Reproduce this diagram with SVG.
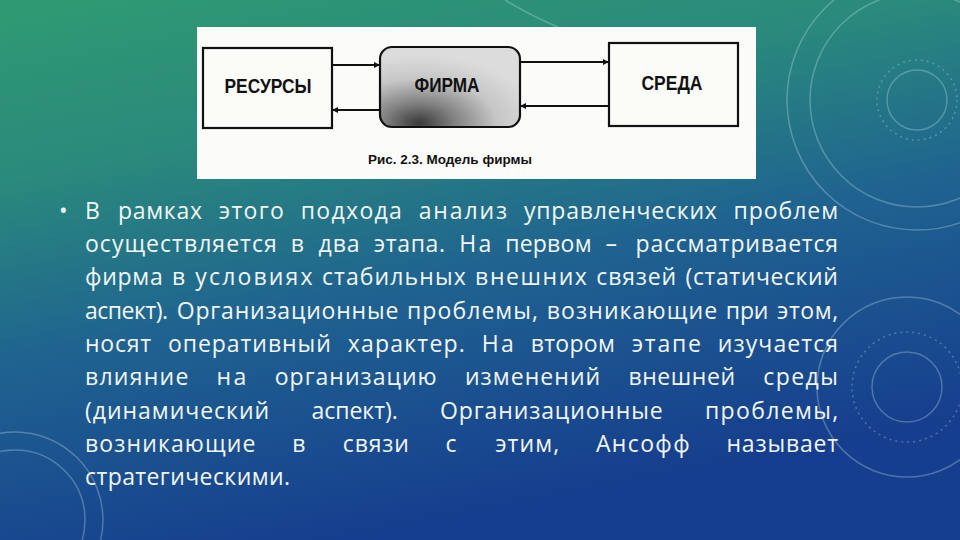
<svg xmlns="http://www.w3.org/2000/svg" width="960" height="540" viewBox="0 0 960 540">
<defs>
<linearGradient id="bg" x1="0" y1="0" x2="0.35" y2="1">
<stop offset="0" stop-color="#2f9a72"/>
<stop offset="0.3" stop-color="#2a8a7c"/>
<stop offset="0.6" stop-color="#1f6390"/>
<stop offset="1" stop-color="#163e8e"/>
</linearGradient>
<radialGradient id="firmfill" cx="0.28" cy="0.95" r="0.85">
<stop offset="0" stop-color="#3a3a3a"/>
<stop offset="0.3" stop-color="#828282"/>
<stop offset="0.65" stop-color="#c6c6c6"/>
<stop offset="1" stop-color="#dcdcdc"/>
</radialGradient>
<marker id="ah" viewBox="0 0 10 10" refX="10" refY="5" markerWidth="6" markerHeight="6" orient="auto" markerUnits="userSpaceOnUse">
<path d="M0,0 L10,5 L0,10 z" fill="#111"/>
</marker>
<style>
.deco{fill:none;stroke:#cfe8ee;stroke-opacity:0.3;stroke-width:1.5}
.box{fill:#fbfbf8;stroke:#111;stroke-width:2.2}
.lbl{font-family:"Liberation Sans",Arial,sans-serif;font-weight:bold;font-size:20px;fill:#111;text-anchor:middle}
.cap{font-family:"Liberation Sans",Arial,sans-serif;font-weight:bold;font-size:13px;fill:#111}
.con{stroke:#111;stroke-width:2;fill:none;marker-end:url(#ah)}
.p text{font-family:"Open Sans","Noto Sans",sans-serif;font-size:23px;fill:#f2f6f6}
</style>
</defs>
<rect width="960" height="540" fill="url(#bg)"/>
<g id="decor">
<circle class="deco" cx="917" cy="100" r="30"/>
<circle class="deco" cx="917" cy="100" r="40" stroke-dasharray="2 4"/>
<circle class="deco" cx="917" cy="100" r="107"/>
<circle class="deco" cx="917" cy="100" r="130" stroke-opacity="0.2"/>
<circle class="deco" cx="907" cy="387" r="35"/>
<circle class="deco" cx="907" cy="387" r="55" stroke-dasharray="2 4"/>
<circle class="deco" cx="907" cy="387" r="90" stroke-opacity="0.12"/>
<circle class="deco" cx="15" cy="520" r="70"/>
<circle class="deco" cx="15" cy="520" r="88" stroke-opacity="0.18"/>
<path class="deco" d="M505,0 Q530,15 560,28" stroke-opacity="0.2"/>
</g>
<rect id="panel" x="197" y="27" width="559" height="152" fill="#fbfbf9"/>
<g id="resources">
<rect class="box" x="203" y="48" width="129" height="80"/>
<text class="lbl" x="268" y="93" textLength="87" lengthAdjust="spacingAndGlyphs">РЕСУРСЫ</text>
</g>
<g id="firm">
<rect x="380" y="47" width="140" height="80" rx="12" fill="url(#firmfill)" stroke="#111" stroke-width="2.2"/>
<text class="lbl" x="447" y="92" textLength="65" lengthAdjust="spacingAndGlyphs">ФИРМА</text>
</g>
<g id="environment">
<rect class="box" x="609" y="43" width="129" height="83"/>
<text class="lbl" x="672" y="90" textLength="61" lengthAdjust="spacingAndGlyphs">СРЕДА</text>
</g>
<g id="connectors">
<line class="con" x1="332" y1="65" x2="380" y2="65"/>
<line class="con" x1="380" y1="110" x2="332" y2="110"/>
<line class="con" x1="520" y1="62" x2="609" y2="62"/>
<line class="con" x1="609" y1="106" x2="520" y2="106"/>
</g>
<g id="caption">
<text class="cap" x="368" y="164" textLength="164" lengthAdjust="spacingAndGlyphs">Рис. 2.3. Модель фирмы</text>
</g>
<g id="paragraph" class="p">
<text x="59" y="219">•</text>
<text x="85" y="219" textLength="16" lengthAdjust="spacing">В</text>
<text x="117.9" y="219" textLength="84.1" lengthAdjust="spacing">рамках</text>
<text x="218.8" y="219" textLength="65" lengthAdjust="spacing">этого</text>
<text x="300.7" y="219" textLength="101.2" lengthAdjust="spacing">подхода</text>
<text x="418.7" y="219" textLength="88.4" lengthAdjust="spacing">анализ</text>
<text x="524" y="219" textLength="192.8" lengthAdjust="spacing">управленческих</text>
<text x="733.6" y="219" textLength="104.4" lengthAdjust="spacing">проблем</text>

<text x="85" y="252" textLength="191.7" lengthAdjust="spacing">осуществляется</text>
<text x="290.8" y="252" textLength="13.8" lengthAdjust="spacing">в</text>
<text x="318.6" y="252" textLength="41" lengthAdjust="spacing">два</text>
<text x="373.7" y="252" textLength="71.4" lengthAdjust="spacing">этапа.</text>
<text x="459.2" y="252" textLength="32" lengthAdjust="spacing">На</text>
<text x="505.2" y="252" textLength="86.3" lengthAdjust="spacing">первом</text>
<text x="605.6" y="252" textLength="16" lengthAdjust="spacing">–</text>
<text x="635.6" y="252" textLength="202.4" lengthAdjust="spacing">рассматривается</text>

<text x="85" y="285" textLength="77.7" lengthAdjust="spacing">фирма</text>
<text x="172.1" y="285" textLength="13.8" lengthAdjust="spacing">в</text>
<text x="195.3" y="285" textLength="117.2" lengthAdjust="spacing">условиях</text>
<text x="321.9" y="285" textLength="143.8" lengthAdjust="spacing">стабильных</text>
<text x="475.1" y="285" textLength="111.8" lengthAdjust="spacing">внешних</text>
<text x="596.3" y="285" textLength="79.9" lengthAdjust="spacing">связей</text>
<text x="685.6" y="285" textLength="152.3" lengthAdjust="spacing">(статический</text>

<text x="85" y="319" textLength="83.1" lengthAdjust="spacing">аспект).</text>
<text x="176.8" y="319" textLength="221.5" lengthAdjust="spacing">Организационные</text>
<text x="407" y="319" textLength="131" lengthAdjust="spacing">проблемы,</text>
<text x="546.7" y="319" textLength="170.4" lengthAdjust="spacing">возникающие</text>
<text x="725.8" y="319" textLength="42.6" lengthAdjust="spacing">при</text>
<text x="777.1" y="319" textLength="61" lengthAdjust="spacing">этом,</text>

<text x="85" y="352" textLength="66" lengthAdjust="spacing">носят</text>
<text x="167.9" y="352" textLength="162.9" lengthAdjust="spacing">оперативный</text>
<text x="347.7" y="352" textLength="117.2" lengthAdjust="spacing">характер.</text>
<text x="481.8" y="352" textLength="32" lengthAdjust="spacing">На</text>
<text x="530.7" y="352" textLength="84.1" lengthAdjust="spacing">втором</text>
<text x="631.7" y="352" textLength="69.2" lengthAdjust="spacing">этапе</text>
<text x="717.8" y="352" textLength="120.3" lengthAdjust="spacing">изучается</text>

<text x="85" y="385" textLength="103.3" lengthAdjust="spacing">влияние</text>
<text x="216.6" y="385" textLength="29.8" lengthAdjust="spacing">на</text>
<text x="274.7" y="385" textLength="161.9" lengthAdjust="spacing">организацию</text>
<text x="464.9" y="385" textLength="135.3" lengthAdjust="spacing">изменений</text>
<text x="628.5" y="385" textLength="106.5" lengthAdjust="spacing">внешней</text>
<text x="763.3" y="385" textLength="74.6" lengthAdjust="spacing">среды</text>

<text x="85" y="419" textLength="184.2" lengthAdjust="spacing">(динамический</text>
<text x="311.5" y="419" textLength="86.3" lengthAdjust="spacing">аспект).</text>
<text x="440.1" y="419" textLength="222.6" lengthAdjust="spacing">Организационные</text>
<text x="705" y="419" textLength="133.1" lengthAdjust="spacing">проблемы,</text>

<text x="85" y="452" textLength="170.4" lengthAdjust="spacing">возникающие</text>
<text x="292.2" y="452" textLength="13.8" lengthAdjust="spacing">в</text>
<text x="342.8" y="452" textLength="66" lengthAdjust="spacing">связи</text>
<text x="445.6" y="452" textLength="12.8" lengthAdjust="spacing">с</text>
<text x="495.2" y="452" textLength="63.9" lengthAdjust="spacing">этим,</text>
<text x="595.9" y="452" textLength="93.7" lengthAdjust="spacing">Ансофф</text>
<text x="726.4" y="452" textLength="111.8" lengthAdjust="spacing">называет</text>

<text x="85" y="485" textLength="205" lengthAdjust="spacing">стратегическими.</text>
</g>
</svg>
